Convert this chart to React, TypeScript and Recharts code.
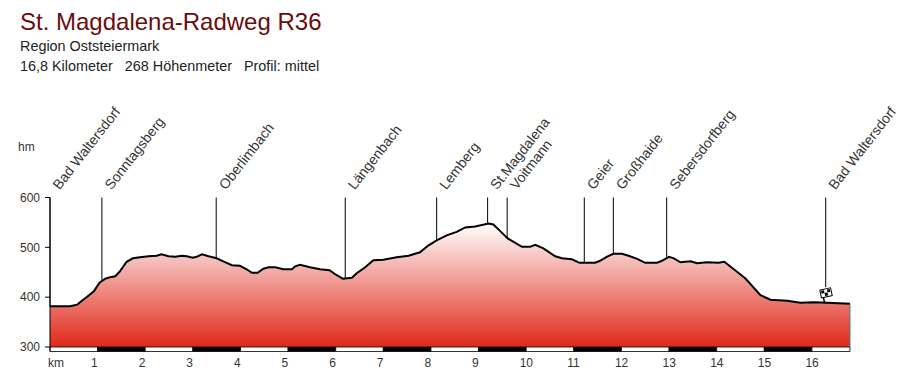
import { ComposedChart, Area, XAxis, YAxis, ReferenceArea, ReferenceLine, ReferenceDot } from 'recharts';

const FONT = '"Liberation Sans", Arial, sans-serif';

const kmValues = [0, 0.42, 0.57, 0.67, 0.78, 0.92, 1.04, 1.16, 1.26, 1.37, 1.46, 1.61, 1.74, 1.89, 2.07, 2.24, 2.34, 2.49, 2.63, 2.77, 2.87, 3.0, 3.08, 3.19, 3.33, 3.5, 3.64, 3.82, 3.99, 4.13, 4.24, 4.36, 4.48, 4.59, 4.73, 4.9, 5.08, 5.15, 5.25, 5.46, 5.67, 5.87, 5.99, 6.15, 6.34, 6.44, 6.62, 6.79, 7.0, 7.28, 7.53, 7.77, 7.95, 8.12, 8.33, 8.54, 8.72, 8.93, 9.21, 9.31, 9.45, 9.61, 9.77, 9.91, 10.08, 10.19, 10.36, 10.61, 10.75, 10.96, 11.12, 11.45, 11.55, 11.69, 11.83, 12.01, 12.15, 12.33, 12.5, 12.75, 12.85, 13.0, 13.1, 13.24, 13.45, 13.59, 13.8, 14.04, 14.16, 14.36, 14.6, 14.92, 15.13, 15.48, 15.76, 16.04, 16.32, 16.8];
const elevations = [382, 382, 385, 393, 401, 412, 429, 437, 440, 442, 451, 471, 478, 480, 482, 483, 486, 482, 481, 483, 482, 479, 481, 486, 482, 478, 472, 464, 463, 456, 449, 449, 457, 460, 460, 456, 456, 462, 465, 460, 456, 454, 446, 437, 439, 448, 460, 474, 475, 480, 483, 490, 504, 514, 524, 531, 540, 542, 548, 546, 533, 518, 509, 501, 501, 505, 498, 482, 478, 476, 469, 469, 473, 481, 487, 487, 483, 477, 469, 469, 473, 481, 478, 470, 472, 468, 470, 469, 471, 456, 438, 404, 395, 393, 389, 390, 389, 387];

const placeNames = ['Bad Waltersdorf', 'Sonntagsberg', 'Oberlimbach', 'Längenbach', 'Lemberg', 'St.Magdalena', 'Voitmann', 'Geier', 'Großhaide', 'Sebersdorfberg', 'Bad Waltersdorf'];
const placeKm = [0, 1.09, 3.49, 6.2, 8.12, 9.19, 9.6, 11.22, 11.83, 12.95, 16.29];
const placeElevation = [382, 435, 478, 437, 514, 548, 518, 469, 487, 481, 420];

const kmTicks = [0, 1, 2, 3, 4, 5, 6, 7, 8, 9, 10, 11, 12, 13, 14, 15, 16];
const heightTicks = [300, 400, 500, 600];
const stripEnds = [1, 2, 3, 4, 5, 6, 7, 8, 9, 10, 11, 12, 13, 14, 15, 16, 16.8];

const data = kmValues.map((km, i) => ({ km, ele: elevations[i] }));

function KmTick({ x, y, payload }: any) {
  const first = payload.value === 0;
  return (
    <text x={first ? x - 2 : x - 6.5} y={y + 7} fontSize={12} fontFamily={FONT} fill="#333">
      {first ? 'km' : payload.value}
    </text>
  );
}

function PlaceLabel({ cx, cy, name }: any) {
  const tx = cx + 9.5;
  const ty = cy - 7;
  return (
    <text x={tx} y={ty} fontSize={14} fontFamily={FONT} fill="#333" transform={`rotate(-52 ${tx} ${ty})`}>
      {name}
    </text>
  );
}

function Flag({ cx, cy }: any) {
  return (
    <g transform={`translate(${cx - 5} ${cy - 14}) rotate(-12 6 5)`}>
      <rect x={0} y={0} width={11} height={8} fill="#fff" stroke="#000" />
      <rect x={1} y={1} width={3} height={3} fill="#000" />
      <rect x={7} y={1} width={3} height={3} fill="#000" />
      <rect x={4} y={4} width={3} height={3} fill="#000" />
      <line x1={2} y1={8} x2={2} y2={14} stroke="#000" strokeWidth={1.5} />
    </g>
  );
}

export default function App() {
  return (
    <div style={{ position: 'absolute', left: 0, top: 0, width: 900, height: 372, background: '#fff', overflow: 'hidden', fontFamily: FONT }}>
      <div style={{ position: 'absolute', left: 20, top: 8, fontSize: 24, color: '#6a0c0c', whiteSpace: 'nowrap' }}>St. Magdalena-Radweg R36</div>
      <div style={{ position: 'absolute', left: 20, top: 38, fontSize: 14.4, color: '#222', whiteSpace: 'nowrap' }}>Region Oststeiermark</div>
      <div style={{ position: 'absolute', left: 20, top: 58, fontSize: 14.4, color: '#222', whiteSpace: 'pre' }}>16,8 Kilometer   268 Höhenmeter   Profil: mittel</div>
      <div style={{ position: 'absolute', left: 18, top: 140, fontSize: 12, color: '#333' }}>hm</div>
      <ComposedChart width={900} height={372} data={data} margin={{ top: 197.5, right: 50, bottom: 0, left: 0 }}>
        <defs>
          <linearGradient id="profileFill" x1="0" y1="0" x2="0" y2="1">
            <stop offset="0%" stopColor="#ffffff" />
            <stop offset="100%" stopColor="#e0281a" />
          </linearGradient>
        </defs>
        <XAxis type="number" dataKey="km" domain={[0, 16.8]} ticks={kmTicks} interval={0} height={20.5} axisLine={false} tickLine={false} tick={<KmTick />} />
        <YAxis type="number" domain={[291, 600]} ticks={heightTicks} interval={0} width={50} axisLine={{ stroke: '#000' }} tickLine={{ stroke: '#000' }} tickSize={5} tickMargin={5} tick={{ fontSize: 12, fontFamily: FONT, fill: '#333' }} />
        <Area type="linear" dataKey="ele" baseValue={300} stroke="#000" strokeWidth={2} fill="url(#profileFill)" fillOpacity={1} dot={false} isAnimationActive={false} />
        {stripEnds.map((end, i) => (
          <ReferenceArea key={end} x1={i === 0 ? 0 : stripEnds[i - 1]} x2={end} y1={291} y2={300} fill={i % 2 ? '#000' : '#fff'} fillOpacity={1} stroke="#000" strokeWidth={0.8} />
        ))}
        <ReferenceLine segment={[{ x: 16.8, y: 300 }, { x: 16.8, y: 387 }]} stroke="#2f8f8f" />
        {placeKm.map((km, i) => (
          <ReferenceLine key={i} segment={[{ x: km, y: placeElevation[i] }, { x: km, y: 600 }]} stroke="#000" />
        ))}
        {placeKm.map((km, i) => (
          <ReferenceDot key={i} x={km} y={600} shape={<PlaceLabel name={placeNames[i]} />} />
        ))}
        <ReferenceDot x={16.29} y={389} shape={<Flag />} />
      </ComposedChart>
    </div>
  );
}
